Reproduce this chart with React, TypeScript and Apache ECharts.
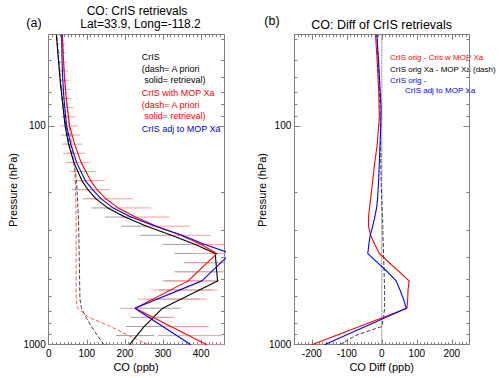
import React, { useEffect, useRef } from "react";
import * as echarts from "echarts";

const FONT = '"Liberation Sans", Arial, sans-serif';

// TES pressure levels (hPa), index k = 0 (surface) ... 34 (top)
const levels = [1000, 908.5, 825.4, 749.9, 681.3, 619.0, 562.3, 510.9, 464.2, 421.7, 383.1, 348.1, 316.2, 287.3, 261.0, 237.1, 215.4, 195.7, 177.8, 161.6, 146.8, 133.4, 121.2, 110.1, 100.0, 90.9, 82.5, 75.0, 68.1, 61.9, 56.2, 51.1, 46.4, 42.2, 38.3];

// Panel (a): CrIS retrieval (black solid)
const crisRetK = [0, 2, 4, 7, 10, 11, 12, 13, 14, 15, 16, 17, 18, 20, 22, 24, 27, 29, 31, 34];
const crisRetCO = [212, 251, 299, 443, 437, 385, 322, 257, 200, 155, 124, 103, 87, 66, 52, 43, 35, 30, 26, 20];
// CrIS a priori (black dash)
const crisApK = [0, 1, 2, 3, 4, 5, 10, 14, 18, 20, 22, 24, 27, 29, 31, 34];
const crisApCO = [145, 128, 112, 98, 86, 82, 80, 78, 73, 66, 54, 45, 36, 31, 27, 21];
// CrIS with MOP Xa retrieval (red solid)
const mopRetK = [0, 4, 7, 10, 11, 12, 13, 14, 15, 16, 17, 18, 20, 22, 24, 27, 29, 31, 34];
const mopRetCO = [415, 227, 366, 441, 400, 347, 283, 228, 182, 150, 127, 110, 85, 68, 55, 46, 42, 39, 36];
// MOP a priori (red dash)
const mopApK = [0, 1, 2, 3, 4, 5, 10, 14, 18, 20, 22, 24, 27, 29, 31, 34];
const mopApCO = [262, 210, 162, 105, 76, 72, 72, 72, 70, 66, 60, 54, 46, 42, 39, 36];
// CrIS adjusted to MOP Xa (blue solid)
const adjK = [0, 4, 7, 10, 11, 12, 13, 14, 15, 16, 17, 18, 20, 22, 24, 27, 29, 31, 34];
const adjCO = [373, 226, 402, 477, 410, 350, 280, 216, 169, 138, 115, 96, 73, 58, 47, 40, 37, 35, 34];

// Error bars per level (low / high), CrIS (gray) and CrIS w MOP Xa (light red)
const crisErrLo = [160, 177, 203, 215, 233, 257, 290, 300, 330, 355, 330, 299, 239, 190, 147, 112, 90, 60, 65, 60, 55, 50, 46, 43, 40, 37, 35, 33, 31, 29, 27, 25, 23, 21, 19];
const crisErrHi = [240, 277, 321, 320, 347, 395, 430, 447, 455, 460, 440, 373, 321, 260, 220, 164, 134, 103, 95, 84, 76, 68, 62, 57, 52, 48, 45, 42, 40, 37, 35, 32, 30, 28, 26];
const mopErrLo = [370, 286, 286, 240, 186, 233, 269, 306, 334, 356, 380, 373, 312, 250, 190, 147, 112, 86, 69, 55, 45, 38, 35, 32, 30, 32, 32, 33, 34, 35, 35, 35, 35, 35, 35];
const mopErrHi = [460, 453, 420, 330, 243, 416, 443, 440, 460, 460, 460, 460, 425, 370, 317, 269, 221, 160, 147, 125, 108, 95, 88, 82, 78, 70, 65, 60, 56, 53, 50, 48, 46, 44, 42];

// Panel (b): differences
const diffRedK = [0, 4, 5, 6, 7, 10, 11, 12, 13, 14, 16, 18, 20, 22, 24, 25, 28, 31, 34];
const diffRed = [-200, 72, 74, 75, 78, -7, -20, -32, -38, -38, -32, -26, -20, -13, -9, -7, -9, -13, -18];
const diffBlueK = [0, 4, 5, 6, 7, 8, 9, 10, 11, 12, 13, 14, 15, 16, 18, 20, 22, 24, 26, 28, 31, 34];
const diffBlue = [-164, 70, 62, 52, 41, 16, -12, -40, -37, -33, -26, -20, -15, -12, -9, -7, -5, -3, -2, -5, -9, -14];
const diffDashK = [0, 1, 2, 3, 4, 6, 10, 14, 18, 24, 29, 34];
const diffDash = [-121, -75, 0, 5, 8, 8, 5, 2, -2, -4, -8, -14];

// Tick values
const coMajor = [0, 100, 200, 300, 400];
const coMinor: number[] = [];
for (let v = 0; v <= 460; v += 10) coMinor.push(v);
const diffMajor = [-200, -100, 0, 100, 200];
const diffMinor: number[] = [];
for (let v = -250; v <= 250; v += 10) diffMinor.push(v);
const pMajor = [100, 1000];
const pMinor = [40, 50, 60, 70, 80, 90, 200, 300, 400, 500, 600, 700, 800, 900];

const P_MIN = 38.3;
const P_MAX = 1000;

const FRAME = "#808080";

function pts(ks: number[], vals: number[]) {
  return ks.map((k, i) => [vals[i], levels[k]]);
}

function xAxisDef(grid: number, pos: string, min: number, max: number, ticks: number[], len: number, labels: number[] | null, major: boolean) {
  return {
    type: "value",
    gridIndex: grid,
    position: pos,
    min,
    max,
    axisLine: { show: major, onZero: false, lineStyle: { color: FRAME, width: 1 } },
    axisTick: { show: true, inside: true, length: len, customValues: ticks, lineStyle: { color: FRAME, width: 1 } },
    axisLabel: labels
      ? { show: true, customValues: labels, fontSize: 10, color: "#000", fontFamily: FONT, margin: 4, formatter: (v: number) => String(Math.round(v)) }
      : { show: false },
    splitLine: { show: false },
  };
}

function yAxisDef(grid: number, pos: string, ticks: number[], len: number, labels: number[] | null, major: boolean) {
  return {
    type: "log",
    logBase: 10,
    gridIndex: grid,
    position: pos,
    min: P_MIN,
    max: P_MAX,
    inverse: true,
    axisLine: { show: major, onZero: false, lineStyle: { color: FRAME, width: 1 } },
    axisTick: { show: true, inside: true, length: len, customValues: ticks, lineStyle: { color: FRAME, width: 1 } },
    axisLabel: labels
      ? { show: true, customValues: labels, fontSize: 10, color: "#000", fontFamily: FONT, margin: 3, formatter: (v: number) => String(Math.round(v)) }
      : { show: false },
    splitLine: { show: false },
  };
}

function errSeries(lo: number[], hi: number[], color: string) {
  return {
    type: "custom",
    xAxisIndex: 0,
    yAxisIndex: 0,
    clip: true,
    silent: true,
    z: 1,
    encode: { x: [0, 1], y: 2 },
    data: levels.map((p, k) => [lo[k], hi[k], p]),
    renderItem: (_params: any, api: any) => {
      const a = api.coord([api.value(0), api.value(2)]);
      const b = api.coord([api.value(1), api.value(2)]);
      return {
        type: "line",
        shape: { x1: a[0], y1: a[1], x2: b[0], y2: b[1] },
        style: { stroke: color, lineWidth: 1 },
      };
    },
  };
}

function lineSeries(xi: number, data: any[], color: string, width: number, type: string, z: number) {
  return {
    type: "line",
    xAxisIndex: xi,
    yAxisIndex: xi,
    data,
    symbol: "none",
    silent: true,
    clip: true,
    z,
    lineStyle: { color, width, type },
  };
}

function txt(text: string, x: number, y: number, color: string, size: number, align = "left", rotation = 0) {
  return {
    type: "text",
    x,
    y,
    rotation,
    silent: true,
    style: {
      text,
      fill: color,
      font: `${size}px ${FONT}`,
      align,
      textAlign: align,
      verticalAlign: "middle",
      textVerticalAlign: "middle",
    },
  };
}

export default function App() {
  const ref = useRef<HTMLDivElement>(null);
  useEffect(() => {
    document.body.style.margin = "0";
    if (!ref.current) return;
    const chart = echarts.init(ref.current, undefined, { renderer: "svg" });
    const gl = { left: 48.7, top: 34.7, width: 175.3, height: 310 };
    const gr = { left: 294.3, top: 34.7, width: 175, height: 310 };
    const option: any = {
      animation: false,
      backgroundColor: "#fff",
      grid: [
        { ...gl, containLabel: false },
        { ...gl, containLabel: false },
        { ...gr, containLabel: false },
        { ...gr, containLabel: false },
      ],
      xAxis: [
        xAxisDef(0, "bottom", 0, 460, coMajor, 5, coMajor, true),
        xAxisDef(0, "top", 0, 460, coMajor, 5, null, true),
        xAxisDef(1, "bottom", 0, 460, coMinor, 2.5, null, false),
        xAxisDef(1, "top", 0, 460, coMinor, 2.5, null, false),
        xAxisDef(2, "bottom", -250, 250, diffMajor, 5, diffMajor, true),
        xAxisDef(2, "top", -250, 250, diffMajor, 5, null, true),
        xAxisDef(3, "bottom", -250, 250, diffMinor, 2.5, null, false),
        xAxisDef(3, "top", -250, 250, diffMinor, 2.5, null, false),
      ],
      yAxis: [
        yAxisDef(0, "left", pMajor, 6, pMajor, true),
        yAxisDef(0, "right", pMajor, 6, null, true),
        yAxisDef(1, "left", pMinor, 3, null, false),
        yAxisDef(1, "right", pMinor, 3, null, false),
        yAxisDef(2, "left", pMajor, 6, pMajor, true),
        yAxisDef(2, "right", pMajor, 6, null, true),
        yAxisDef(3, "left", pMinor, 3, null, false),
        yAxisDef(3, "right", pMinor, 3, null, false),
      ],
      series: [
        errSeries(crisErrLo, crisErrHi, "#a0a0a0"),
        errSeries(mopErrLo, mopErrHi, "#ff9a9a"),
        lineSeries(0, pts(crisApK, crisApCO), "#444", 1, "dashed", 3),
        lineSeries(0, pts(mopApK, mopApCO), "#ff5a5a", 1, "dashed", 3),
        lineSeries(0, pts(crisRetK, crisRetCO), "#000", 1.1, "solid", 4),
        lineSeries(0, pts(mopRetK, mopRetCO), "#ff0000", 1.1, "solid", 4),
        lineSeries(0, pts(adjK, adjCO), "#0000ff", 1.1, "solid", 4),
        lineSeries(4, [[0, P_MIN], [0, P_MAX]], "#555", 1, "dotted", 2),
        lineSeries(4, pts(diffDashK, diffDash), "#444", 1, "dashed", 3),
        lineSeries(4, pts(diffRedK, diffRed), "#ff0000", 1.1, "solid", 4),
        lineSeries(4, pts(diffBlueK, diffBlue), "#0000ff", 1.1, "solid", 4),
      ],
      graphic: [
        txt("(a)", 34, 22.7, "#000", 12.5, "center"),
        txt("CO: CrIS retrievals", 137, 11, "#000", 12, "center"),
        txt("Lat=33.9, Long=-118.2", 140.5, 23.5, "#000", 12, "center"),
        txt("(b)", 272, 20.7, "#000", 12.5, "center"),
        txt("CO: Diff of CrIS retrievals", 381.7, 25, "#000", 12.5, "center"),
        txt("CO (ppb)", 136, 367, "#000", 11, "center"),
        txt("CO Diff (ppb)", 381.7, 367, "#000", 11, "center"),
        txt("Pressure (hPa)", 13, 190, "#000", 11, "center", Math.PI / 2),
        txt("Pressure (hPa)", 262, 190, "#000", 11, "center", Math.PI / 2),
        txt("CrIS", 141.7, 56.7, "#000", 9),
        txt("(dash= A priori", 141.7, 69, "#000", 9),
        txt(" solid= retrieval)", 141.7, 80, "#000", 9),
        txt("CrIS with MOP Xa", 141.7, 93.3, "#ff0000", 9),
        txt("(dash= A priori", 141.7, 105, "#ff0000", 9),
        txt(" solid= retrieval)", 141.7, 116, "#ff0000", 9),
        txt("CrIS adj to MOP Xa", 141.7, 129.3, "#0000ff", 9),
        txt("CrIS orig - Cris w MOP Xa", 390, 57.3, "#ff0000", 8),
        txt("CrIS orig Xa - MOP Xa (dash)", 390, 69, "#000", 8),
        txt("CrIS orig -", 390, 80, "#0000ff", 8),
        txt("CrIS adj to MOP Xa", 405, 90.7, "#0000ff", 8),
      ],
    };
    chart.setOption(option);
    return () => chart.dispose();
  }, []);
  return (
    <div
      ref={ref}
      style={{ position: "absolute", left: 0, top: 0, width: 500, height: 378, background: "#fff" }}
    />
  );
}
